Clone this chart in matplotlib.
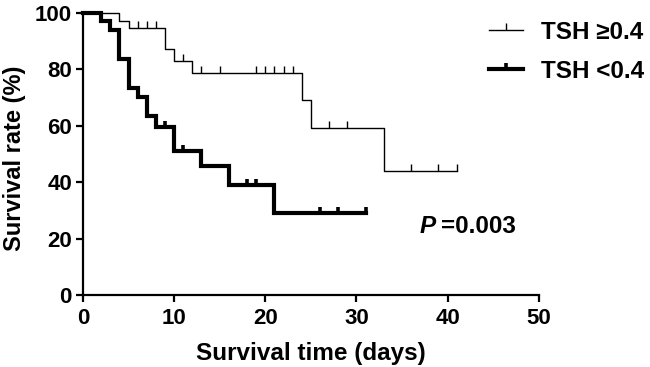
import numpy as np
import matplotlib
matplotlib.use("Agg")
import matplotlib.pyplot as plt
from matplotlib.lines import Line2D

plt.rcParams['font.family'] = ['Liberation Sans', 'DejaVu Sans']
plt.rcParams['font.weight'] = 'bold'

# ---- data ----
high_label = "TSH \u22650.4"
low_label = "TSH <0.4"

high_times = [0, 4, 5, 9, 10, 12, 24, 25, 33, 41]
high_surv = [100, 97.3, 94.6, 87.1, 83.0, 78.8, 69.0, 59.1, 44.1, 44.1]
high_censor = [6, 7, 8, 11, 13, 15, 19, 20, 21, 22, 23, 27, 29, 36, 39, 41]

low_times = [0, 2, 3, 4, 5, 6, 7, 8, 10, 13, 16, 21, 31]
low_surv = [100, 97.0, 94.0, 83.8, 73.4, 70.2, 63.3, 59.4, 50.9, 45.6, 39.0, 29.2, 29.2]
low_censor = [9, 11, 18, 19, 26, 28, 31]

x_ticks = [0, 10, 20, 30, 40, 50]
y_ticks = [0, 20, 40, 60, 80, 100]
p_text = "=0.003"


def surv_at(times, surv, t):
    idx = np.searchsorted(np.asarray(times), np.asarray(t), side='right') - 1
    return np.asarray(surv)[idx]


W, H = 650, 367
fig = plt.figure(figsize=(6.5, 3.67), dpi=100)
ax = fig.add_axes([83 / W, 1 - 295 / H, 455.7 / W, 282 / H])

# thin group
ax.step(high_times, high_surv, where='post', color='black', lw=1.0,
        clip_on=False, zorder=3)
ax.plot(high_censor, surv_at(high_times, high_surv, high_censor),
        ls='none', marker=2, ms=5, mew=1.0, color='black', clip_on=False, zorder=3)

# thick group
ax.step(low_times, low_surv, where='post', color='black', lw=3.0,
        clip_on=False, zorder=4, solid_joinstyle='miter')
ax.plot(low_censor, surv_at(low_times, low_surv, low_censor),
        ls='none', marker=2, ms=4.5, mew=2.6, color='black', clip_on=False, zorder=4)

ax.set_xlim(0, 50)
ax.set_ylim(0, 100)
ax.set_xticks(x_ticks)
ax.set_yticks(y_ticks)
for s in ['top', 'right']:
    ax.spines[s].set_visible(False)
for s in ['left', 'bottom']:
    ax.spines[s].set_linewidth(1.6)
ax.tick_params(axis='both', length=5, width=1.6, labelsize=16, direction='out')
ax.tick_params(axis='y', pad=3)
ax.tick_params(axis='x', pad=4)
for lab in ax.get_xticklabels() + ax.get_yticklabels():
    lab.set_fontweight('bold')

ax.set_xlabel("Survival time (days)", fontsize=17.5, fontweight='bold')
ax.xaxis.set_label_coords(0.5, -0.165)
fig.text(15 / W, 1 - 158 / H, "Survival rate (%)", rotation=90, fontsize=17,
         fontweight='bold', ha='center', va='center')

# P value text
ax.text((420 - 83) / 455.7, 0.22, "P", transform=ax.transAxes, fontsize=17.5,
        fontweight='bold', style='italic', ha='left', va='baseline')
ax.text((441 - 83) / 455.7, 0.22, p_text, transform=ax.transAxes, fontsize=17.5,
        fontweight='bold', ha='left', va='baseline')

handles = [
    Line2D([], [], color='black', lw=1.0, marker=2, ms=5, mew=1.0),
    Line2D([], [], color='black', lw=3.0, marker=2, ms=4.5, mew=2.6),
]
leg = fig.legend(handles, [high_label, low_label], loc='upper left',
                 bbox_to_anchor=(489 / W, 1 - 21 / H), frameon=False,
                 fontsize=17.5, numpoints=1, handlelength=1.4, handletextpad=0.75,
                 labelspacing=0.65, borderpad=0, borderaxespad=0)
for t in leg.get_texts():
    t.set_fontweight('bold')

fig.savefig("out.png", dpi=100)
